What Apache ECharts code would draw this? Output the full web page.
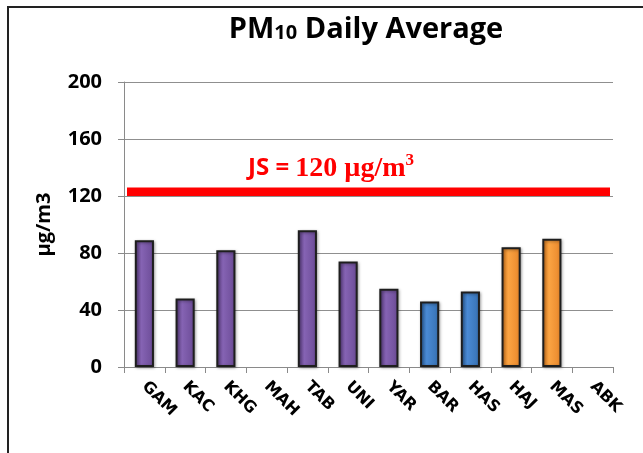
<!DOCTYPE html>
<html><head><meta charset="utf-8">
<script src="https://cdn.jsdelivr.net/npm/echarts@6/dist/echarts.min.js"></script>
<style>html,body{margin:0;padding:0;background:#fff}#c{width:643px;height:453px}</style>
</head><body><div id="c"></div>
<script>
var categories = ['GAM','KAC','KHG','MAH','TAB','UNI','YAR','BAR','HAS','HAJ','MAS','ABK'];
var values = [89, 48, 82, null, 96, 74, 55, 46, 53, 84, 90, null];
var groups = ['p','p','p','p','p','p','p','b','b','o','o','o'];
var standardValue = 120;
var standardBand = [120, 126];
var yTicks = [0, 40, 80, 120, 160, 200];

var palette = {
  p: ['#5a3d80','#8563b3','#6b4b96'],
  b: ['#2b5f9c','#4a8ad4','#3670b2'],
  o: ['#d8761a','#fba443','#e8862a']
};
function grad(g){
  var c = palette[g];
  return new echarts.graphic.LinearGradient(0,0,1,0,[
    {offset:0,color:c[0]},{offset:0.35,color:c[1]},{offset:1,color:c[2]}]);
}
var barData = values.map(function(v,i){
  return {value:v, itemStyle:{color:grad(groups[i])}};
});

var chart = echarts.init(document.getElementById('c'));
chart.setOption({
  animation:false,
  title:{
    text:'{a|PM}{b|10}{a| Daily Average}',
    left:361, top:10, textAlign:'center',
    textStyle:{rich:{
      a:{fontFamily:'Open Sans',fontWeight:'bold',fontSize:29,color:'#000'},
      b:{fontFamily:'Open Sans',fontWeight:'bold',fontSize:20,color:'#000',padding:[8,0,0,0]}
    }}
  },
  grid:{left:124, right:30, top:82, bottom:86, containLabel:false},
  xAxis:{
    type:'category', data:categories, boundaryGap:true,
    axisLine:{lineStyle:{color:'#8a8a8a',width:1}},
    axisTick:{show:true,length:6,lineStyle:{color:'#8a8a8a'}},
    axisLabel:{rotate:-45, interval:0, margin:17, fontFamily:'DejaVu Sans', fontWeight:'bold', fontSize:16, color:'#000'}
  },
  yAxis:{
    type:'value', min:yTicks[0], max:yTicks[yTicks.length-1], interval:40,
    name:'µg/m3', nameLocation:'middle', nameGap:70, nameRotate:90,
    nameTextStyle:{fontFamily:'Open Sans',fontWeight:'bold',fontSize:20,color:'#000'},
    axisLine:{show:true,lineStyle:{color:'#8a8a8a'}},
    axisTick:{show:true,length:6,lineStyle:{color:'#8a8a8a'}},
    axisLabel:{margin:22, fontFamily:'Open Sans', fontWeight:'bold', fontSize:20, color:'#000'},
    splitLine:{lineStyle:{color:'#8f8f8f',width:1}}
  },
  series:[{
    type:'bar', data:barData, barWidth:'47%',
    itemStyle:{borderColor:'#1e1e1e', borderWidth:2, shadowColor:'rgba(0,0,0,0.35)', shadowBlur:3, shadowOffsetX:1, shadowOffsetY:1},
    markArea:{
      silent:true,
      itemStyle:{color:'#ff0000', opacity:1},
      label:{show:false},
      data:[[{yAxis:standardBand[0], x:127},{yAxis:standardBand[1], x:610}]]
    },
    z:2
  }],
  graphic:[
    {type:'line', shape:{x1:7,y1:7,x2:643,y2:7}, style:{stroke:'#222',lineWidth:2}},
    {type:'line', shape:{x1:8,y1:7,x2:8,y2:453}, style:{stroke:'#222',lineWidth:2}},
    {type:'text', left:248, top:152, style:{
      text:'{s|JS = }{m|120 µg/m}{sup|3}',
      rich:{
        s:{fontFamily:'Open Sans',fontWeight:'bold',fontSize:24,fill:'#ff0000',color:'#ff0000'},
        m:{fontFamily:'Liberation Serif',fontWeight:'bold',fontSize:28,fill:'#ff0000',color:'#ff0000'},
        sup:{fontFamily:'Liberation Serif',fontWeight:'bold',fontSize:17,fill:'#ff0000',color:'#ff0000',padding:[0,0,16,0]}
      }
    }}
  ]
});
</script></body></html>
